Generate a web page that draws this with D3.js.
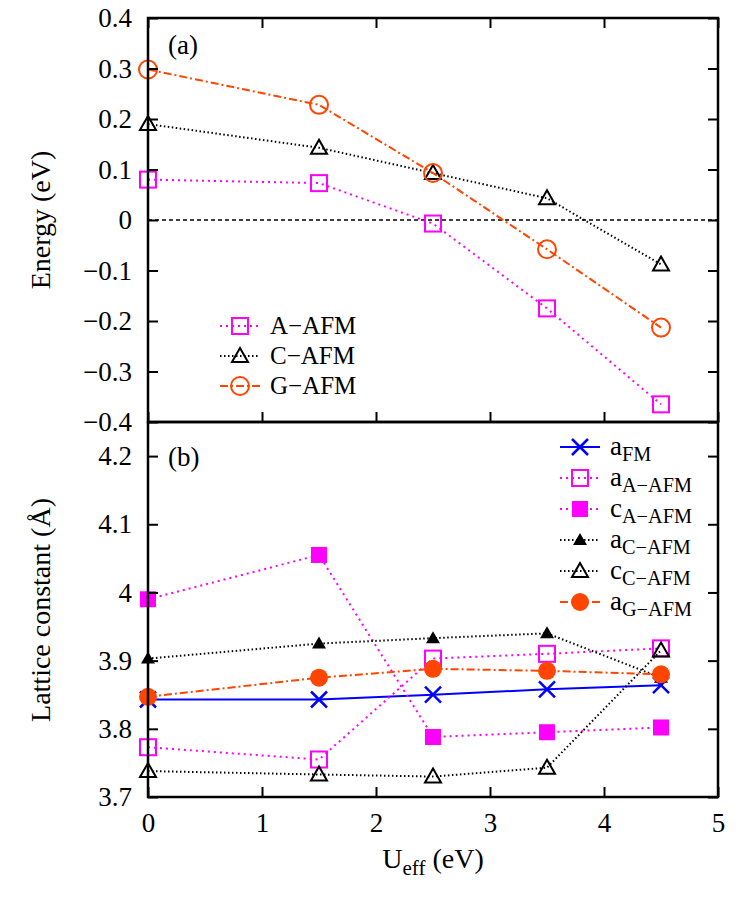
<!DOCTYPE html>
<html><head><meta charset="utf-8">
<script src="https://cdn.jsdelivr.net/npm/d3@7"></script>
<style>body{margin:0;background:#fff}svg text{font-family:'Liberation Serif','Times New Roman',Times,'DejaVu Serif',serif !important}</style>
</head><body><svg id="chart" width="748" height="907" font-family="Liberation Serif, serif"></svg>
<script>
// data
const uVals = [0, 1.5, 2.5, 3.5, 4.5];
const eA = [0.08, 0.073, -0.007, -0.175, -0.365];
const eC = [0.19, 0.143, 0.093, 0.043, -0.088];
const eG = [0.298, 0.228, 0.093, -0.058, -0.213];
const aFM = [3.843, 3.843, 3.85, 3.858, 3.864];
const aA = [3.773, 3.755, 3.903, 3.91, 3.918];
const cA = [3.99, 4.055, 3.788, 3.795, 3.802];
const aC = [3.903, 3.925, 3.933, 3.94, 3.875];
const cC = [3.738, 3.733, 3.73, 3.743, 3.915];
const aG = [3.847, 3.875, 3.888, 3.885, 3.88];
const xTicks = [0, 1, 2, 3, 4, 5];
const eTicks = [-0.4, -0.3, -0.2, -0.1, 0, 0.1, 0.2, 0.3, 0.4];
const lTicks = [3.7, 3.8, 3.9, 4.0, 4.1, 4.2];

const svg = d3.select('#chart');
const L = 148, R = 718;
const x = d3.scaleLinear().domain([0, 5]).range([L, R]);
const yE = d3.scaleLinear().domain([-0.4, 0.4]).range([422, 18]);
const yL = d3.scaleLinear().domain([3.7, 4.25]).range([797, 422]);
const FF = "'Liberation Serif','Times New Roman',serif";

function marker(g, type, color, cx, cy) {
  if (type === 'osq') g.append('rect').attr('x', cx-8).attr('y', cy-8).attr('width', 16).attr('height', 16).attr('fill', 'none').attr('stroke', color).attr('stroke-width', 2);
  if (type === 'fsq') g.append('rect').attr('x', cx-8).attr('y', cy-8).attr('width', 16).attr('height', 16).attr('fill', color);
  if (type === 'otri') g.append('path').attr('d', `M${cx},${cy-8}L${cx+8},${cy+6}L${cx-8},${cy+6}Z`).attr('fill', 'none').attr('stroke', color).attr('stroke-width', 2);
  if (type === 'ftri') g.append('path').attr('d', `M${cx},${cy-7}L${cx+7},${cy+5}L${cx-7},${cy+5}Z`).attr('fill', color);
  if (type === 'ocirc') g.append('circle').attr('cx', cx).attr('cy', cy).attr('r', 9).attr('fill', 'none').attr('stroke', color).attr('stroke-width', 2);
  if (type === 'fcirc') g.append('circle').attr('cx', cx).attr('cy', cy).attr('r', 9).attr('fill', color);
  if (type === 'x') g.append('path').attr('d', `M${cx-8},${cy-8}L${cx+8},${cy+8}M${cx-8},${cy+8}L${cx+8},${cy-8}`).attr('stroke', color).attr('stroke-width', 2.5);
}

function series(y, vals, color, dash, type, width) {
  const g = svg.append('g');
  g.append('path').datum(vals).attr('fill', 'none').attr('stroke', color).attr('stroke-width', width || 2)
    .attr('stroke-dasharray', dash)
    .attr('d', d3.line().x((d, i) => x(uVals[i])).y(d => y(d)));
  vals.forEach((v, i) => marker(g, type, color, x(uVals[i]), y(v)));
}

function legend(items, lx, ly, step, fontSize) {
  items.forEach((it, i) => {
    const g = svg.append('g');
    const yy = ly + i * step;
    g.append('line').attr('x1', lx).attr('x2', lx + 40).attr('y1', yy).attr('y2', yy).attr('stroke', it.color).attr('stroke-width', 2).attr('stroke-dasharray', it.dash);
    marker(g, it.type, it.color, lx + 20, yy);
    const t = g.append('text').attr('x', lx + 50).attr('y', yy + 8).attr('font-size', fontSize).attr('font-family', FF);
    t.append('tspan').text(it.main);
    if (it.sub) t.append('tspan').attr('font-size', fontSize * 0.75).attr('dy', 6).text(it.sub);
  });
}

// zero line
svg.append('line').attr('x1', L).attr('x2', R).attr('y1', yE(0)).attr('y2', yE(0)).attr('stroke', '#000').attr('stroke-width', 1.3).attr('stroke-dasharray', '4,3');

series(yE, eA, '#ff00ff', '2,4', 'osq');
series(yE, eC, '#000', '1.5,2.5', 'otri');
series(yE, eG, '#ff4500', '8,3,2,3', 'ocirc');

series(yL, aFM, '#0000ff', null, 'x');
series(yL, aA, '#ff00ff', '2,4', 'osq');
series(yL, cA, '#ff00ff', '2,4', 'fsq');
series(yL, aC, '#000', '1.5,2.5', 'ftri');
series(yL, cC, '#000', '1.5,2.5', 'otri');
series(yL, aG, '#ff4500', '8,3,2,3', 'fcirc');

// frames & axes
[[18, 422], [422, 797]].forEach(([t, b]) => svg.append('rect').attr('x', L).attr('y', t).attr('width', R-L).attr('height', b-t).attr('fill', 'none').attr('stroke', '#000').attr('stroke-width', 2.5));

function styleAxis(g) {
  g.attr('font-family', FF);
  g.select('.domain').remove();
  g.selectAll('line').attr('stroke-width', 2);
  g.selectAll('text').attr('font-size', 27).attr('font-family', FF).attr('fill', '#000');
}
function yAxis(y, ticks, fmt) {
  styleAxis(svg.append('g').attr('transform', `translate(${L},0)`).call(d3.axisLeft(y).tickValues(ticks).tickSize(-10).tickPadding(16).tickFormat(fmt)));
  styleAxis(svg.append('g').attr('transform', `translate(${R},0)`).call(d3.axisRight(y).tickValues(ticks).tickSize(-10).tickFormat('')));
}
const fmtE = d => d === 0 ? '0' : d3.format('.1f')(d).replace('-', '\u2212');
yAxis(yE, eTicks, fmtE);
yAxis(yL, lTicks, d => d === 4 ? '4' : d3.format('.1f')(d));

styleAxis(svg.append('g').attr('transform', 'translate(0,797)').call(d3.axisBottom(x).tickValues(xTicks).tickSize(-10).tickPadding(16).tickFormat(d3.format('d'))));
styleAxis(svg.append('g').attr('transform', 'translate(0,18)').call(d3.axisTop(x).tickValues(xTicks).tickSize(-10).tickFormat('')));
styleAxis(svg.append('g').attr('transform', 'translate(0,422)').call(d3.axisBottom(x).tickValues(xTicks).tickSize(-10).tickFormat('')));

// labels
const lab = (x0, y0, s, txt) => svg.append('text').attr('x', x0).attr('y', y0).attr('font-size', s).attr('font-family', FF).text(txt);
lab(168, 54, 27, '(a)');
lab(168, 466, 27, '(b)');
svg.append('text').attr('transform', 'translate(50,220) rotate(-90)').attr('text-anchor', 'middle').attr('font-size', 28).attr('font-family', FF).text('Energy (eV)');
svg.append('text').attr('transform', 'translate(50,610) rotate(-90)').attr('text-anchor', 'middle').attr('font-size', 28).attr('font-family', FF).text('Lattice constant (\u00c5)');
const xl = svg.append('text').attr('x', 433).attr('y', 868).attr('text-anchor', 'middle').attr('font-size', 28).attr('font-family', FF);
xl.append('tspan').text('U');
xl.append('tspan').attr('font-size', 21).attr('dy', 7).text('eff');
xl.append('tspan').attr('dy', -7).text(' (eV)');

legend([
  {main: 'A\u2212AFM', color: '#ff00ff', dash: '2,4', type: 'osq'},
  {main: 'C\u2212AFM', color: '#000', dash: '1.5,2.5', type: 'otri'},
  {main: 'G\u2212AFM', color: '#ff4500', dash: '8,3,2,3', type: 'ocirc'}
], 220, 326, 30, 25);
legend([
  {main: 'a', sub: 'FM', color: '#0000ff', dash: null, type: 'x'},
  {main: 'a', sub: 'A\u2212AFM', color: '#ff00ff', dash: '2,4', type: 'osq'},
  {main: 'c', sub: 'A\u2212AFM', color: '#ff00ff', dash: '2,4', type: 'fsq'},
  {main: 'a', sub: 'C\u2212AFM', color: '#000', dash: '1.5,2.5', type: 'ftri'},
  {main: 'c', sub: 'C\u2212AFM', color: '#000', dash: '1.5,2.5', type: 'otri'},
  {main: 'a', sub: 'G\u2212AFM', color: '#ff4500', dash: '8,3,2,3', type: 'fcirc'}
], 560, 447, 31, 27);
</script></body></html>
